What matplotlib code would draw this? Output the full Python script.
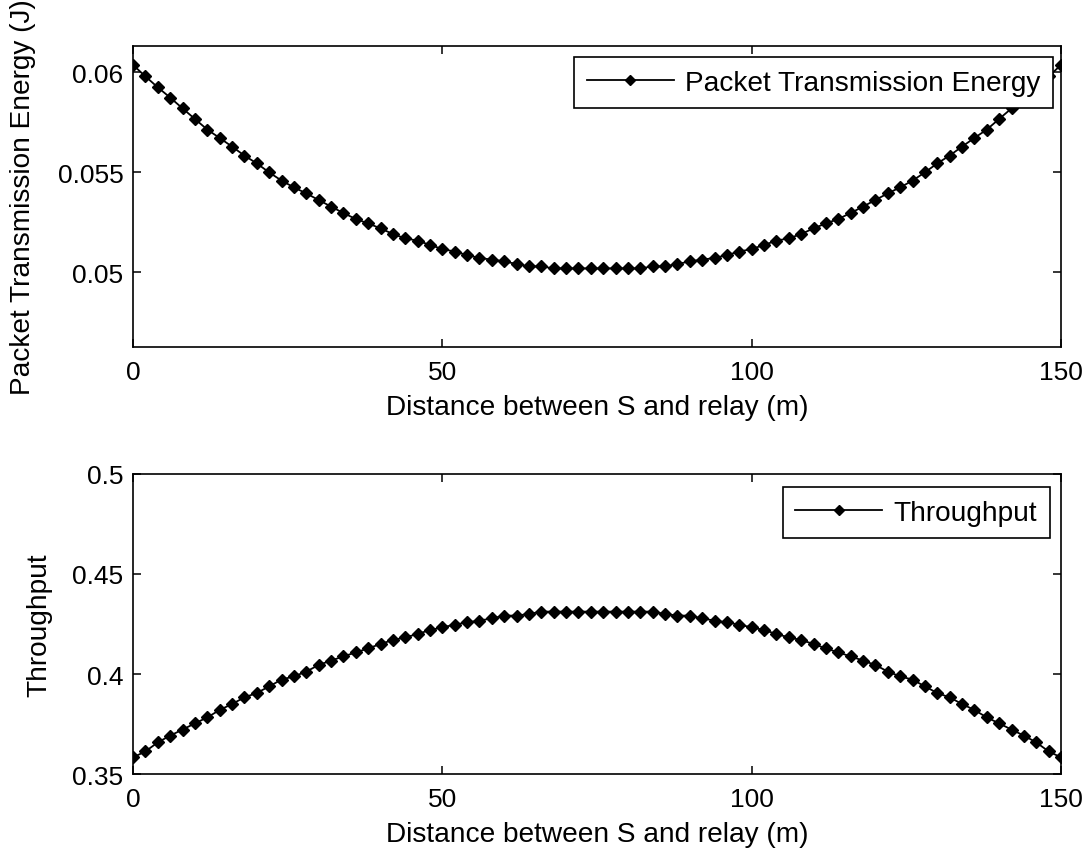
import matplotlib
matplotlib.use('Agg')
import matplotlib.pyplot as plt

plt.rcParams['font.family'] = ['Liberation Sans', 'DejaVu Sans']
plt.rcParams['font.size'] = 19

# distance between S and relay (m), step 2
distance = list(range(0, 151, 2))

# packet transmission energy (J)
energy = [
    0.06037, 0.05980, 0.05925, 0.05874, 0.05820, 0.05767, 0.05714, 0.05672, 0.05629, 0.05584,
    0.05545, 0.05500, 0.05459, 0.05425, 0.05395, 0.05362, 0.05329, 0.05297, 0.05267, 0.05245,
    0.05220, 0.05192, 0.05170, 0.05159, 0.05137, 0.05117, 0.05104, 0.05087, 0.05072, 0.05064,
    0.05055, 0.05042, 0.05030, 0.05030, 0.05020, 0.05020, 0.05020, 0.05020,
    0.05020, 0.05020, 0.05020, 0.05020, 0.05030, 0.05030, 0.05042, 0.05055,
    0.05064, 0.05072, 0.05087, 0.05104, 0.05117, 0.05137, 0.05159, 0.05170, 0.05192, 0.05220,
    0.05245, 0.05267, 0.05297, 0.05329, 0.05362, 0.05395, 0.05425, 0.05459, 0.05500, 0.05545,
    0.05584, 0.05629, 0.05672, 0.05714, 0.05767, 0.05820, 0.05874, 0.05925, 0.05980, 0.06037,
]

# throughput
throughput = [
    0.3583, 0.3613, 0.3658, 0.3692, 0.3722, 0.3753, 0.3783, 0.3820, 0.3850, 0.3883,
    0.3905, 0.3938, 0.3972, 0.3988, 0.4012, 0.4045, 0.4067, 0.4088, 0.4108, 0.4128,
    0.4150, 0.4170, 0.4183, 0.4200, 0.4220, 0.4233, 0.4247, 0.4258, 0.4267, 0.4278,
    0.4292, 0.4292, 0.4300, 0.4312, 0.4312, 0.4312, 0.4312, 0.4312,
    0.4312, 0.4312, 0.4312, 0.4312, 0.4312, 0.4300, 0.4292, 0.4292,
    0.4278, 0.4267, 0.4258, 0.4247, 0.4233, 0.4220, 0.4200, 0.4183, 0.4170, 0.4150,
    0.4128, 0.4108, 0.4088, 0.4067, 0.4045, 0.4012, 0.3988, 0.3972, 0.3938, 0.3905,
    0.3883, 0.3850, 0.3820, 0.3783, 0.3753, 0.3722, 0.3692, 0.3658, 0.3613, 0.3583,
]

x_ticks = [0, 50, 100, 150]
energy_ticks = [0.05, 0.055, 0.06]
energy_tick_labels = ['0.05', '0.055', '0.06']
thr_ticks = [0.35, 0.4, 0.45, 0.5]
thr_tick_labels = ['0.35', '0.4', '0.45', '0.5']

label_size = 20.2

fig = plt.figure(figsize=(10.87, 8.54), dpi=100)
ax1 = fig.add_axes([0.1224, 0.5925, 0.8537, 0.3525])
ax2 = fig.add_axes([0.1224, 0.0925, 0.8537, 0.3513])


def style_axes(ax):
    for s in ax.spines.values():
        s.set_linewidth(1.2)
    ax.tick_params(direction='in', length=6, width=1.1, top=True, right=True)
    ax.tick_params(axis='x', pad=9.5)
    ax.tick_params(axis='y', pad=7)
    ax.set_xlim(0, 150)
    ax.set_xticks(x_ticks)
    ax.set_xlabel('Distance between S and relay (m)', fontsize=label_size, labelpad=7)


def add_legend(ax, anchor):
    leg = ax.legend(loc='upper right', bbox_to_anchor=anchor, borderaxespad=0,
                    fancybox=False, framealpha=1, edgecolor='black', handlelength=3.1,
                    handletextpad=0.4, borderpad=0.45, markerscale=0.8,
                    fontsize=label_size)
    leg.get_frame().set_linewidth(1.2)


ax1.plot(distance, energy, '-', color='black', lw=1.3, marker='D', ms=5.8,
         label='Packet Transmission Energy')
style_axes(ax1)
ax1.set_ylim(0.04627, 0.06132)
ax1.set_yticks(energy_ticks)
ax1.set_yticklabels(energy_tick_labels)
ax1.set_ylabel('Packet Transmission Energy (J)', fontsize=label_size)
ax1.yaxis.set_label_coords(-0.1045, 0.5)
add_legend(ax1, (0.9914, 0.9635))

ax2.plot(distance, throughput, '-', color='black', lw=1.3, marker='D', ms=5.8,
         label='Throughput')
style_axes(ax2)
ax2.set_ylim(0.35, 0.5)
ax2.set_yticks(thr_ticks)
ax2.set_yticklabels(thr_tick_labels)
ax2.set_ylabel('Throughput', fontsize=label_size)
ax2.yaxis.set_label_coords(-0.087, 0.5)
add_legend(ax2, (0.988, 0.957))

fig.savefig('out.png', dpi=100)
